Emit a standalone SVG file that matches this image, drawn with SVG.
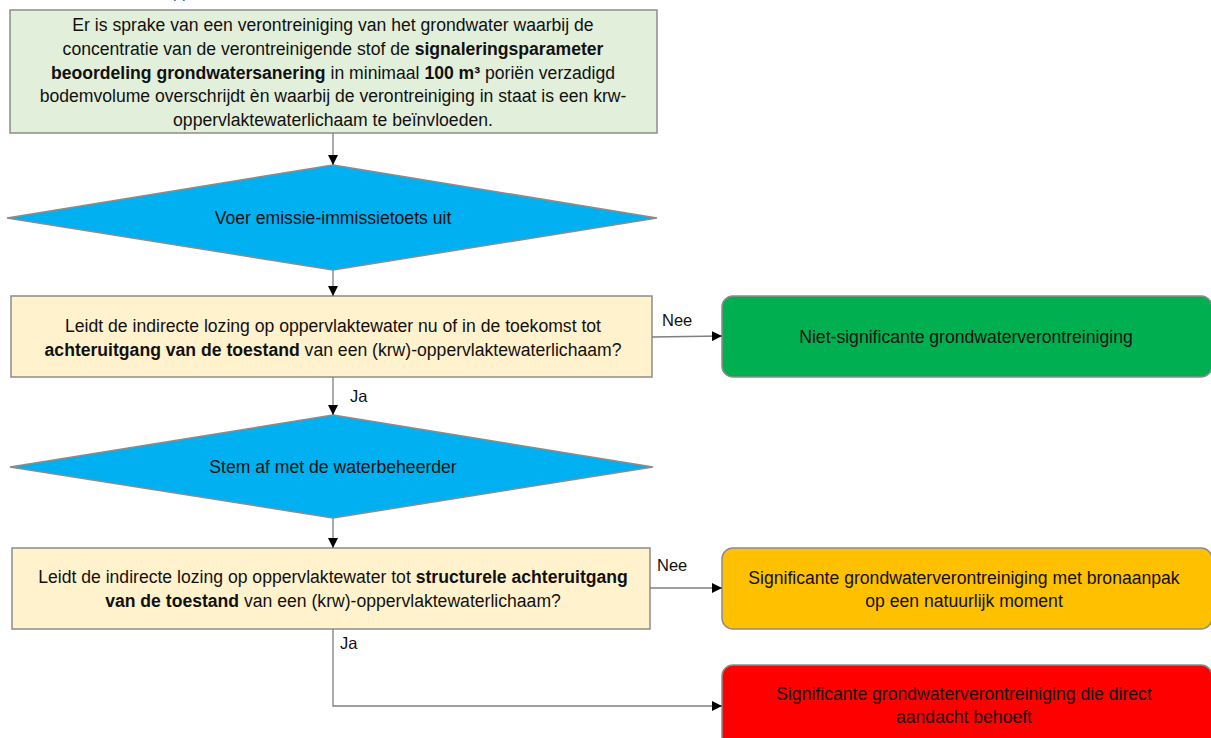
<svg xmlns="http://www.w3.org/2000/svg" width="1211" height="738" viewBox="0 0 1211 738">
<style>
text{font-family:"Liberation Sans",Arial,sans-serif;font-size:17.6px;fill:#111;text-anchor:middle}
.b{font-weight:bold}
.lbl{text-anchor:start;font-size:16.5px}
.box{stroke:#8c8c8c;stroke-width:1.5}
.con{stroke:#7f7f7f;stroke-width:1.3;fill:none}
</style>
<defs>
<marker id="ah" viewBox="0 0 10 10" refX="10" refY="5" markerWidth="10" markerHeight="10" markerUnits="userSpaceOnUse" orient="auto">
<path d="M0,0 L10,5 L0,10 z" fill="#000"/>
</marker>
</defs>
<rect width="1211" height="738" fill="#fff"/>
<text x="173" y="-2" style="text-anchor:start;fill:#2f5597;font-size:16px">pp</text>

<g id="start">
<rect class="box" x="10" y="10" width="647" height="123" fill="#e2efda"/>
<text x="333" y="31">Er is sprake van een verontreiniging van het grondwater waarbij de</text>
<text x="333" y="55">concentratie van de verontreinigende stof de <tspan class="b">signaleringsparameter</tspan></text>
<text x="333" y="79"><tspan class="b">beoordeling grondwatersanering</tspan> in minimaal <tspan class="b">100 m³</tspan> poriën verzadigd</text>
<text x="333" y="102">bodemvolume overschrijdt èn waarbij de verontreiniging in staat is een krw-</text>
<text x="333" y="126">oppervlaktewaterlichaam te beïnvloeden.</text>
</g>

<g id="toets">
<polygon class="box" points="333,165 657,218 333,270 7,218" fill="#00b0f0"/>
<text x="333" y="224">Voer emissie-immissietoets uit</text>
</g>

<g id="vraag1">
<rect class="box" x="11" y="296" width="641" height="81" fill="#fff2cc"/>
<text x="333" y="332">Leidt de indirecte lozing op oppervlaktewater nu of in de toekomst tot</text>
<text x="333" y="356"><tspan class="b">achteruitgang van de toestand</tspan> van een (krw)-oppervlaktewaterlichaam?</text>
</g>

<g id="niet-significant">
<rect class="box" x="722" y="296" width="490" height="81" rx="11" fill="#00b050"/>
<text x="966" y="343">Niet-significante grondwaterverontreiniging</text>
</g>

<g id="afstemmen">
<polygon class="box" points="333,415 653,467 333,518 10,467" fill="#00b0f0"/>
<text x="333" y="473">Stem af met de waterbeheerder</text>
</g>

<g id="vraag2">
<rect class="box" x="12" y="548" width="638" height="81" fill="#fff2cc"/>
<text x="333" y="583">Leidt de indirecte lozing op oppervlaktewater tot <tspan class="b">structurele achteruitgang</tspan></text>
<text x="333" y="607"><tspan class="b">van de toestand</tspan> van een (krw)-oppervlaktewaterlichaam?</text>
</g>

<g id="significant-bronaanpak">
<rect class="box" x="722" y="548" width="490" height="81" rx="11" fill="#ffc000"/>
<text x="964" y="584">Significante grondwaterverontreiniging met bronaanpak</text>
<text x="964" y="607">op een natuurlijk moment</text>
</g>

<g id="significant-direct">
<rect class="box" x="722" y="665" width="490" height="90" rx="11" fill="#ff0000"/>
<text x="964" y="700">Significante grondwaterverontreiniging die direct</text>
<text x="964" y="723">aandacht behoeft</text>
</g>

<g id="connectors">
<line class="con" x1="333" y1="133" x2="333" y2="165" marker-end="url(#ah)"/>
<line class="con" x1="333" y1="270" x2="333" y2="296" marker-end="url(#ah)"/>
<line class="con" x1="652" y1="337" x2="722" y2="336" marker-end="url(#ah)"/>
<line class="con" x1="333" y1="377" x2="333" y2="415" marker-end="url(#ah)"/>
<line class="con" x1="333" y1="518" x2="333" y2="548" marker-end="url(#ah)"/>
<line class="con" x1="650" y1="588" x2="722" y2="588" marker-end="url(#ah)"/>
<polyline class="con" points="333,629 333,706 722,706" marker-end="url(#ah)"/>
<text class="lbl" x="662" y="326">Nee</text>
<text class="lbl" x="350" y="402">Ja</text>
<text class="lbl" x="657" y="571">Nee</text>
<text class="lbl" x="340" y="649">Ja</text>
</g>
</svg>
